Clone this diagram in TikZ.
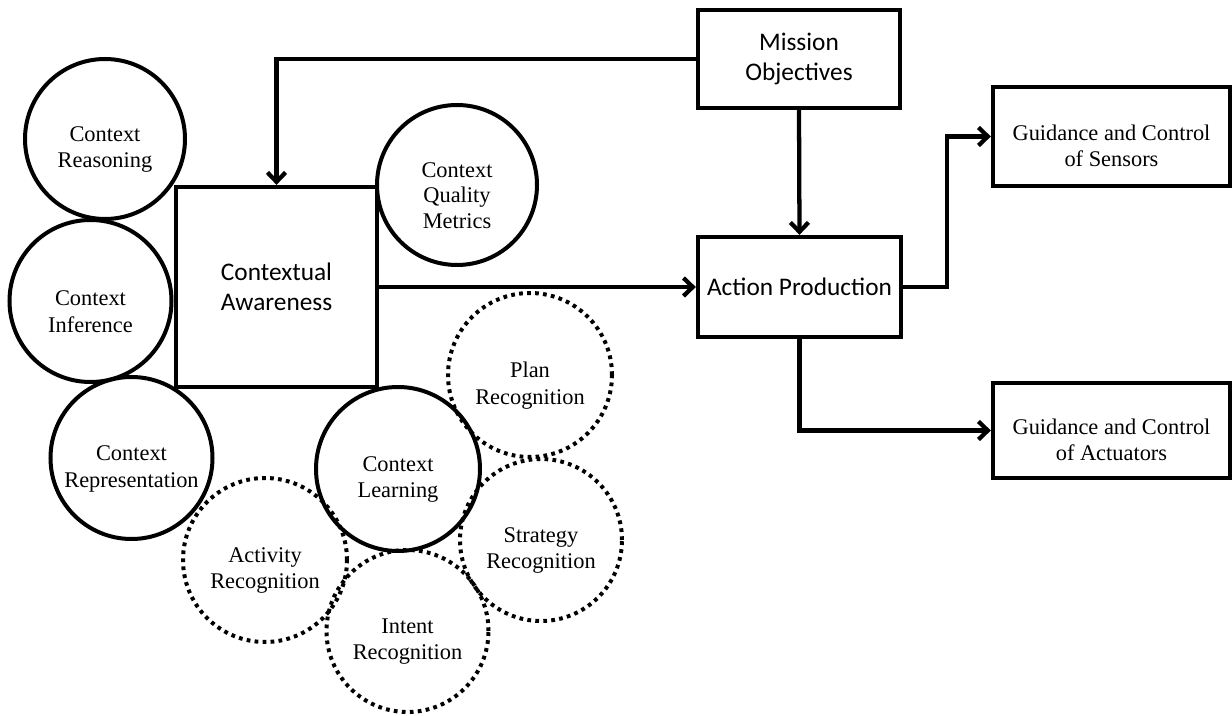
\documentclass[tikz,border=0pt]{standalone}
\usepackage{fontspec}
\setmainfont{Liberation Serif}
\newfontfamily\calibri{Carlito}
\usetikzlibrary{arrows.meta}
\begin{document}
\begin{tikzpicture}[x=0.75pt,y=-0.75pt,
  ctx/.style={circle, draw, line width=3pt, inner sep=0pt},
  ctxdot/.style={circle, draw, line width=3pt, inner sep=0pt, dash pattern=on 2.8pt off 3.2pt},
  ctxtext/.style={align=center, inner sep=0pt, font=\fontsize{16.8}{20}\selectfont},
  blk/.style={draw, rectangle, line width=3.2pt, inner sep=0pt, align=center,
    font=\calibri\fontsize{19}{22.5}\selectfont},
  gbox/.style={draw, rectangle, line width=3.2pt, inner sep=0pt,
    minimum width=177.75pt},
  arr/.style={line width=3.2pt, -{Straight Barb[length=7pt,width=13.5pt]}}
]
\fill[white] (0,0) rectangle (1232,716);
\useasboundingbox (0,0) rectangle (1232,716);

% main blocks
\node[blk, minimum width=150.75pt, minimum height=150pt] (ca) at (276.5,287) {Contextual\\Awareness};
\node[blk, minimum width=151.5pt, minimum height=73.5pt] (mo) at (799,59) {Mission\\Objectives};
\node[blk, minimum width=152.25pt, minimum height=75pt] (ap) at (799.5,287) {Action Production};
\node[gbox, minimum height=74.25pt] (gs) at (1111.5,136.5) {};
\node[ctxtext, font=\fontsize{16.8}{19.5}\selectfont] (gs-t) at ([yshift=-7pt]gs.center) {Guidance and Control\\of Sensors};
\node[gbox, minimum height=71.25pt] (ga) at (1111.5,430.5) {};
\node[ctxtext, font=\fontsize{16.8}{19.5}\selectfont] (ga-t) at ([yshift=-7pt]ga.center) {Guidance and Control\\of Actuators};

% context circles
\node[ctx, minimum size=120pt] (cr) at (105,139) {};
\node[ctxtext] (cr-t) at ([yshift=-8pt]cr.center) {Context\\Reasoning};
\node[ctx, minimum size=121.5pt] (ci) at (90.5,301) {};
\node[ctxtext] (ci-t) at ([yshift=-8pt]ci.center) {Context\\Inference};
\node[ctx, minimum size=120pt] (cq) at (457,185) {};
\node[ctxtext, font=\fontsize{16.8}{19}\selectfont] (cq-t) at ([yshift=-8pt]cq.center) {Context\\Quality\\Metrics};
\node[ctx, minimum size=121.5pt] (crep) at (131.5,458) {};
\node[ctxtext] (crep-t) at ([yshift=-8pt]crep.center) {Context\\Representation};
\node[ctx, minimum size=123pt] (cl) at (398,469) {};
\node[ctxtext] (cl-t) at ([yshift=-8pt]cl.center) {Context\\Learning};

% recognition circles
\node[ctxdot, minimum size=123pt] (pr) at (530,375) {};
\node[ctxtext] (pr-t) at ([yshift=-8pt]pr.center) {Plan\\Recognition};
\node[ctxdot, minimum size=121.5pt] (sr) at (541,540) {};
\node[ctxtext] (sr-t) at ([yshift=-8pt]sr.center) {Strategy\\Recognition};
\node[ctxdot, minimum size=121.5pt] (ir) at (407.5,631) {};
\node[ctxtext] (ir-t) at ([yshift=-8pt]ir.center) {Intent\\Recognition};
\node[ctxdot, minimum size=123pt] (ar) at (265,560) {};
\node[ctxtext] (ar-t) at ([yshift=-8pt]ar.center) {Activity\\Recognition};

% connectors
\coordinate (bend) at (947,287);
\draw[arr] (mo.west) -| (ca.north);
\draw[arr] (ca.east) -- (ap.west);
\draw[arr] (mo.south) -- (ap.north);
\draw[arr] (ap.east) -- (bend) |- (gs.west);
\draw[arr] (ap.south) |- (ga.west);
\end{tikzpicture}
\end{document}
